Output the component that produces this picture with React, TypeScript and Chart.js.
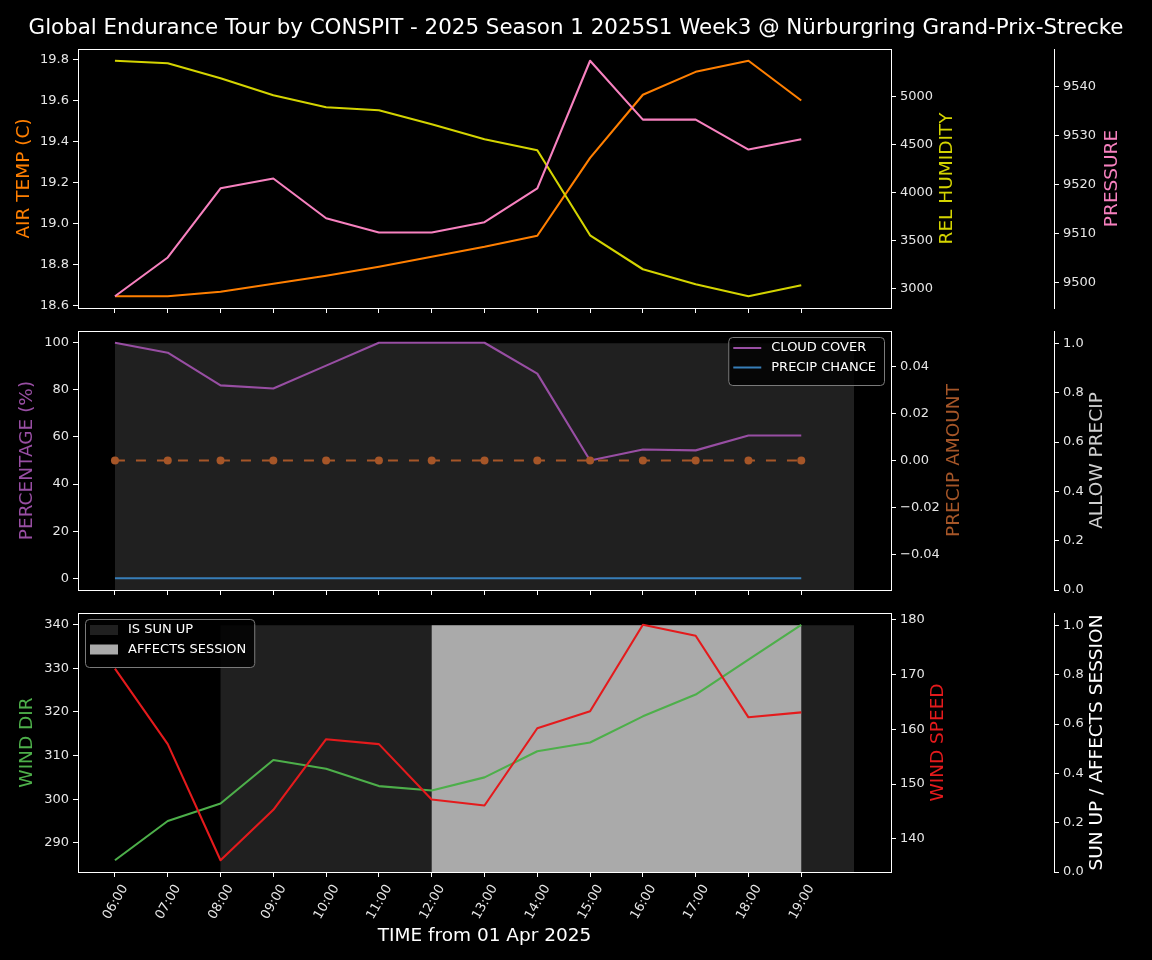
import React, { useEffect, useRef } from 'react';
import { Chart, registerables } from 'chart.js';

Chart.register(...registerables);

// ---------------- data ----------------
const HOURS = [6, 7, 8, 9, 10, 11, 12, 13, 14, 15, 16, 17, 18, 19];

const AIR_TEMP = [18.645, 18.645, 18.667, 18.706, 18.745, 18.789, 18.838, 18.886, 18.94, 19.32, 19.628, 19.74, 19.794, 19.6];
const REL_HUMIDITY = [5373, 5347, 5190, 5013, 4889, 4857, 4711, 4555, 4441, 3555, 3201, 3045, 2920, 3034];
const PRESSURE = [9497.2, 9505.1, 9519.2, 9521.2, 9513.1, 9510.2, 9510.2, 9512.3, 9519.2, 9545.2, 9533.2, 9533.2, 9527.1, 9529.2];

const CLOUD_COVER = [100, 95.8, 81.9, 80.6, 90.3, 100, 100, 100, 86.9, 50, 54.7, 54.3, 60.6, 60.6];
const PRECIP_CHANCE = [0, 0, 0, 0, 0, 0, 0, 0, 0, 0, 0, 0, 0, 0];
const PRECIP_AMOUNT = [0, 0, 0, 0, 0, 0, 0, 0, 0, 0, 0, 0, 0, 0];
const ALLOW_PRECIP = [1, 1, 1, 1, 1, 1, 1, 1, 1, 1, 1, 1, 1, 1];

const WIND_DIR = [286, 295, 299, 309, 307, 303, 302, 305, 311, 313, 319, 324, 332, 340];
const WIND_SPEED = [171.1, 157.3, 136.1, 145.3, 158.2, 157.3, 147.2, 146.1, 160.2, 163.3, 179.1, 177.1, 162.2, 163.1];
const SUN_UP = [0, 0, 1, 1, 1, 1, 1, 1, 1, 1, 1, 1, 1, 1];
const AFFECTS_SESSION = [0, 0, 0, 0, 0, 0, 1, 1, 1, 1, 1, 1, 1, 0];

const AIR_TEMP_TICKS = [18.6, 18.8, 19.0, 19.2, 19.4, 19.6, 19.8];
const HUMIDITY_TICKS = [3000, 3500, 4000, 4500, 5000];
const PRESSURE_TICKS = [9500, 9510, 9520, 9530, 9540];
const PCT_TICKS = [0, 20, 40, 60, 80, 100];
const PRECIP_AMT_TICKS = [-0.04, -0.02, 0, 0.02, 0.04];
const UNIT_TICKS = [0, 0.2, 0.4, 0.6, 0.8, 1.0];
const WIND_DIR_TICKS = [290, 300, 310, 320, 330, 340];
const WIND_SPEED_TICKS = [140, 150, 160, 170, 180];

const MAIN_TITLE = 'Global Endurance Tour by CONSPIT - 2025 Season 1 2025S1 Week3 @ Nürburgring Grand-Prix-Strecke';
const X_TITLE = 'TIME from 01 Apr 2025';

// ---------------- style ----------------
const FONT = '"DejaVu Sans", "Liberation Sans", sans-serif';
const TICK_COLOR = '#e6e6e6';
const SPINE = '#ffffff';
const C_ORANGE = '#ff7f00';
const C_YELLOW = '#d4d400';
const C_PINK = '#f781bf';
const C_PURPLE = '#984ea3';
const C_BLUE = '#377eb8';
const C_BROWN = '#a65628';
const C_GREEN = '#4daf4a';
const C_RED = '#e41a1c';
const C_DARK = '#202020';
const C_LIGHT = '#aaaaaa';

const LAST = HOURS[HOURS.length - 1];
const SPAN = LAST + 1 - HOURS[0];
const X_MIN = HOURS[0] - 0.05 * SPAN;
const X_MAX = LAST + 1 + 0.05 * SPAN;

function padded(values: number[]) {
  const lo = Math.min(...values);
  const hi = Math.max(...values);
  if (lo === hi) {
    const d = lo === 0 ? 0.05 : Math.abs(lo) * 0.05;
    return { min: lo - d * 1.1, max: hi + d * 1.1 };
  }
  const r = hi - lo;
  return { min: lo - r * 0.05, max: hi + r * 0.05 };
}

const fmtHour = (h: number) => `${String(h).padStart(2, '0')}:00`;
const fmtFixed = (d: number) => (v: number) => {
  const s = Math.abs(v).toFixed(d);
  return v < -1e-9 ? '\u2212' + s : s;
};

const pts = (vals: number[]) => HOURS.map((h, i) => ({ x: h, y: vals[i] }));
const stepPts = (vals: number[]) => [...pts(vals), { x: LAST + 1, y: vals[vals.length - 1] }];

function lineDs(label: string, vals: number[], axis: string, color: string, order: number, extra: any = {}) {
  return {
    type: 'line', label, data: pts(vals), yAxisID: axis, borderColor: color, backgroundColor: color,
    borderWidth: 2.1, pointRadius: 0, tension: 0, fill: false, order, borderJoinStyle: 'round', ...extra,
  };
}

function fillDs(label: string, vals: number[], axis: string, color: string, order: number) {
  return {
    type: 'line', label, data: stepPts(vals), yAxisID: axis, stepped: 'before', fill: 'origin',
    backgroundColor: color, borderColor: 'rgba(0,0,0,0)', borderWidth: 0, pointRadius: 0, order,
  };
}

function yScale(position: string, weight: number, width: number, range: { min: number; max: number }, ticks: number[], fmt: (v: number) => string) {
  return {
    type: 'linear', position, weight, min: range.min, max: range.max,
    afterBuildTicks: (ax: any) => { ax.ticks = ticks.map((v) => ({ value: v })); },
    afterFit: (ax: any) => { ax.width = width; },
    ticks: { color: TICK_COLOR, font: { family: FONT, size: 13 }, padding: 4, callback: (v: any) => fmt(Number(v)) },
    grid: { display: true, drawOnChartArea: false, drawTicks: true, tickLength: 5, color: SPINE, tickColor: SPINE, tickWidth: 1 },
    border: { display: true, color: SPINE, width: 1 },
  };
}

function xScale(height: number, withLabels: boolean) {
  return {
    type: 'linear', position: 'bottom', min: X_MIN, max: X_MAX,
    afterBuildTicks: (ax: any) => { ax.ticks = HOURS.map((v) => ({ value: v })); },
    afterFit: (ax: any) => { ax.height = height; },
    ticks: {
      display: withLabels, color: TICK_COLOR, font: { family: FONT, size: 13 }, padding: 5,
      minRotation: 60, maxRotation: 60, autoSkip: false, labelOffset: 10,
      callback: (v: any) => fmtHour(Number(v)),
    },
    grid: { display: true, drawOnChartArea: false, drawTicks: true, tickLength: 5, color: SPINE, tickColor: SPINE },
    border: { display: true, color: SPINE, width: 1 },
    title: withLabels
      ? { display: true, text: X_TITLE, color: '#ffffff', font: { family: FONT, size: 18.5 }, padding: { top: 0, bottom: 13 } }
      : { display: false },
  };
}

type Title = { text: string; color: string; x: number };
type LegendItem = { label: string; color: string; kind: 'line' | 'patch' };
interface PanelSpec {
  top: number; height: number; padTop: number; xHeight: number;
  datasets: any[]; scales: Record<string, any>; titles: Title[];
  legend?: { items: LegendItem[]; corner: 'left' | 'right' };
  mainTitle?: string;
}

// layout widths: left axis, right axis, far-right axis
const W_LEFT = 78;
const W_RIGHT = 163;
const W_FAR = 98;

function makeTop(): PanelSpec {
  return {
    top: 0, height: 330, padTop: 49, xHeight: 22, mainTitle: MAIN_TITLE,
    datasets: [
      lineDs('AIR TEMP', AIR_TEMP, 'y', C_ORANGE, 3),
      lineDs('REL HUMIDITY', REL_HUMIDITY, 'y1', C_YELLOW, 2),
      lineDs('PRESSURE', PRESSURE, 'y2', C_PINK, 1),
    ],
    scales: {
      x: xScale(22, false),
      y: yScale('left', 0, W_LEFT, padded(AIR_TEMP), AIR_TEMP_TICKS, fmtFixed(1)),
      y1: yScale('right', 0, W_RIGHT, padded(REL_HUMIDITY), HUMIDITY_TICKS, fmtFixed(0)),
      y2: yScale('right', 1, W_FAR, padded(PRESSURE), PRESSURE_TICKS, fmtFixed(0)),
    },
    titles: [
      { text: 'AIR TEMP (C)', color: C_ORANGE, x: 24 },
      { text: 'REL HUMIDITY', color: C_YELLOW, x: 947 },
      { text: 'PRESSURE', color: C_PINK, x: 1112 },
    ],
  };
}

function makeMiddle(): PanelSpec {
  return {
    top: 310, height: 302, padTop: 21, xHeight: 22,
    datasets: [
      fillDs('ALLOW PRECIP', ALLOW_PRECIP, 'y2', C_DARK, 10),
      lineDs('CLOUD COVER', CLOUD_COVER, 'y', C_PURPLE, 3),
      lineDs('PRECIP CHANCE', PRECIP_CHANCE, 'y', C_BLUE, 2),
      lineDs('PRECIP AMOUNT', PRECIP_AMOUNT, 'y1', C_BROWN, 1, {
        borderDash: [10, 11], pointRadius: 4, pointBackgroundColor: C_BROWN, pointBorderColor: C_BROWN, pointBorderWidth: 0,
      }),
    ],
    scales: {
      x: xScale(22, false),
      y: yScale('left', 0, W_LEFT, padded([...CLOUD_COVER, ...PRECIP_CHANCE]), PCT_TICKS, fmtFixed(0)),
      y1: yScale('right', 0, W_RIGHT, padded(PRECIP_AMOUNT), PRECIP_AMT_TICKS, fmtFixed(2)),
      y2: yScale('right', 1, W_FAR, { min: 0, max: 1.05 }, UNIT_TICKS, fmtFixed(1)),
    },
    titles: [
      { text: 'PERCENTAGE (%)', color: C_PURPLE, x: 27 },
      { text: 'PRECIP AMOUNT', color: C_BROWN, x: 954 },
      { text: 'ALLOW PRECIP', color: '#cfcfcf', x: 1097 },
    ],
    legend: {
      corner: 'right',
      items: [
        { label: 'CLOUD COVER', color: C_PURPLE, kind: 'line' },
        { label: 'PRECIP CHANCE', color: C_BLUE, kind: 'line' },
      ],
    },
  };
}

function makeBottom(): PanelSpec {
  return {
    top: 592, height: 368, padTop: 21, xHeight: 88,
    datasets: [
      fillDs('IS SUN UP', SUN_UP, 'y2', C_DARK, 11),
      fillDs('AFFECTS SESSION', AFFECTS_SESSION, 'y2', C_LIGHT, 10),
      lineDs('WIND DIR', WIND_DIR, 'y', C_GREEN, 2),
      lineDs('WIND SPEED', WIND_SPEED, 'y1', C_RED, 1),
    ],
    scales: {
      x: xScale(88, true),
      y: yScale('left', 0, W_LEFT, padded(WIND_DIR), WIND_DIR_TICKS, fmtFixed(0)),
      y1: yScale('right', 0, W_RIGHT, padded(WIND_SPEED), WIND_SPEED_TICKS, fmtFixed(0)),
      y2: yScale('right', 1, W_FAR, { min: 0, max: 1.05 }, UNIT_TICKS, fmtFixed(1)),
    },
    titles: [
      { text: 'WIND DIR', color: C_GREEN, x: 27 },
      { text: 'WIND SPEED', color: C_RED, x: 938 },
      { text: 'SUN UP / AFFECTS SESSION', color: '#ffffff', x: 1097 },
    ],
    legend: {
      corner: 'left',
      items: [
        { label: 'IS SUN UP', color: C_DARK, kind: 'patch' },
        { label: 'AFFECTS SESSION', color: C_LIGHT, kind: 'patch' },
      ],
    },
  };
}

function roundRect(ctx: CanvasRenderingContext2D, x: number, y: number, w: number, h: number, r: number) {
  ctx.beginPath();
  ctx.moveTo(x + r, y);
  ctx.lineTo(x + w - r, y);
  ctx.arcTo(x + w, y, x + w, y + r, r);
  ctx.lineTo(x + w, y + h - r);
  ctx.arcTo(x + w, y + h, x + w - r, y + h, r);
  ctx.lineTo(x + r, y + h);
  ctx.arcTo(x, y + h, x, y + h - r, r);
  ctx.lineTo(x, y + r);
  ctx.arcTo(x, y, x + r, y, r);
  ctx.closePath();
}

function decorPlugin(spec: PanelSpec) {
  return {
    id: 'decor',
    afterDatasetsDraw(chart: any) {
      const { ctx, chartArea: a } = chart;
      ctx.save();
      // frame
      const al = (p: number) => Math.round(p - 0.5) + 0.5;
      ctx.strokeStyle = SPINE;
      ctx.lineWidth = 1;
      ctx.strokeRect(al(a.left), al(a.top), al(a.right) - al(a.left), al(a.bottom) - al(a.top));

      // axis titles
      const cy = (a.top + a.bottom) / 2;
      ctx.font = `18.5px ${FONT}`;
      ctx.textAlign = 'center';
      ctx.textBaseline = 'middle';
      for (const t of spec.titles) {
        ctx.save();
        ctx.translate(t.x, cy);
        ctx.rotate(-Math.PI / 2);
        ctx.fillStyle = t.color;
        ctx.fillText(t.text, 0, 0);
        ctx.restore();
      }

      // legend
      if (spec.legend) {
        ctx.font = `13px ${FONT}`;
        const items = spec.legend.items;
        const textW = Math.max(...items.map((it) => ctx.measureText(it.label).width));
        const padL = 5, handle = 28, gap = 10, padR = 8, rowH = 19.5, padV = 6;
        const w = padL + handle + gap + textW + padR;
        const h = padV * 2 + rowH * items.length - 3;
        const x0 = spec.legend.corner === 'right' ? a.right - 7 - w : a.left + 7;
        const y0 = a.top + 6;
        roundRect(ctx, x0 + 0.5, y0 + 0.5, w, h, 4);
        ctx.fillStyle = 'rgba(0,0,0,0.8)';
        ctx.fill();
        ctx.strokeStyle = '#7a7a7a';
        ctx.lineWidth = 1;
        ctx.stroke();
        items.forEach((it, i) => {
          const ry = y0 + padV + 5 + i * rowH;
          if (it.kind === 'line') {
            ctx.strokeStyle = it.color;
            ctx.lineWidth = 2;
            ctx.beginPath();
            ctx.moveTo(x0 + padL, ry);
            ctx.lineTo(x0 + padL + handle, ry);
            ctx.stroke();
          } else {
            ctx.fillStyle = it.color;
            ctx.fillRect(x0 + padL, ry - 5, handle, 10);
          }
          ctx.fillStyle = '#ffffff';
          ctx.textAlign = 'left';
          ctx.textBaseline = 'middle';
          ctx.fillText(it.label, x0 + padL + handle + gap, ry);
        });
      }

      // main title
      if (spec.mainTitle) {
        ctx.font = `21.4px ${FONT}`;
        ctx.fillStyle = '#ffffff';
        ctx.textAlign = 'center';
        ctx.textBaseline = 'middle';
        ctx.fillText(spec.mainTitle, 576, 28);
      }
      ctx.restore();
    },
  };
}

function Panel({ make }: { make: () => PanelSpec }) {
  const ref = useRef<HTMLCanvasElement>(null);
  const spec = make();
  useEffect(() => {
    const s = make();
    const canvas = ref.current!;
    const chart = new Chart(canvas, {
      type: 'line',
      data: { datasets: s.datasets as any },
      options: {
        responsive: false,
        animation: false,
        devicePixelRatio: 1,
        layout: { padding: { top: s.padTop, bottom: 0, left: 0, right: 0 } },
        plugins: { legend: { display: false }, tooltip: { enabled: false }, title: { display: false } },
        scales: s.scales as any,
      } as any,
      plugins: [decorPlugin(s) as any],
    });
    return () => chart.destroy();
  }, [make]);
  return (
    <canvas
      ref={ref}
      width={1152}
      height={spec.height}
      style={{ position: 'absolute', left: 0, top: spec.top, width: 1152, height: spec.height, display: 'block' }}
    />
  );
}

export default function App() {
  useEffect(() => {
    document.body.style.margin = '0';
    document.body.style.background = '#000';
  }, []);
  return (
    <div style={{ position: 'relative', width: 1152, height: 960, background: '#000', overflow: 'hidden' }}>
      <Panel make={makeTop} />
      <Panel make={makeMiddle} />
      <Panel make={makeBottom} />
    </div>
  );
}
